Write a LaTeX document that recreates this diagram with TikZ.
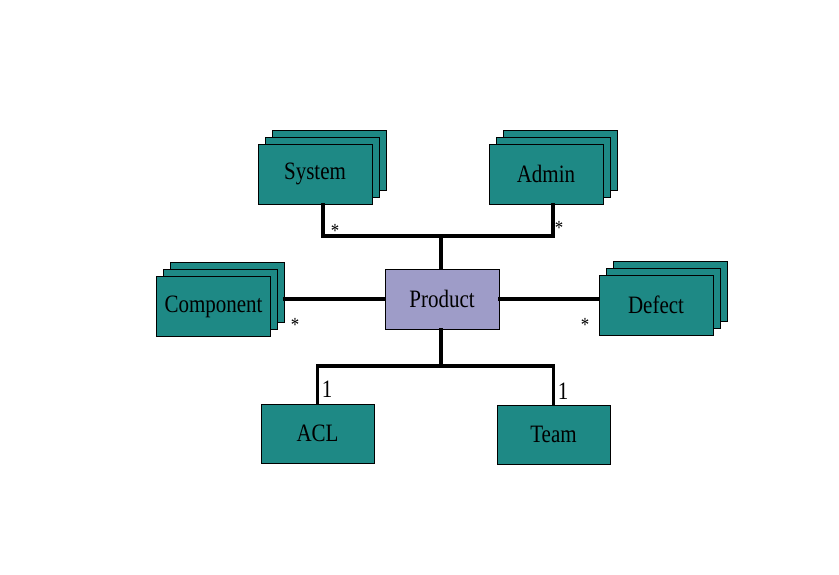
\documentclass[tikz,border=0pt]{standalone}
\usepackage{fontspec}
\setmainfont[FakeStretch=0.84]{Liberation Serif}
\usepackage{tikz}
\usetikzlibrary{shadows}
\definecolor{ERTeal}{RGB}{30,137,133}
\definecolor{ERLilac}{RGB}{158,156,200}

\begin{document}
\begin{tikzpicture}[
    x=1pt,y=-1pt,
    font=\fontsize{25}{28}\selectfont,
    entity/.style={draw=black,fill=ERTeal,line width=0.9pt,
      minimum width=114pt,minimum height=60pt,inner sep=0pt},
    many/.style={entity,double copy shadow={shadow xshift=7pt,shadow yshift=7pt}},
    hub/.style={entity,fill=ERLilac},
    link/.style={line width=3.6pt,line cap=rect},
    card/.style={inner sep=0pt,font=\fontsize{20}{22}\selectfont}
  ]
    \useasboundingbox (0,0) rectangle (839,575);
    \node[hub] (product) at (442,299) {Product};
    \node[many] (system) at (315,174) {System};
    \node[many] (admin) at (546,174) {Admin};
    \node[many] (component) at (213.5,306.5) {Component};
    \node[many] (defect) at (656,305) {Defect};
    \node[entity,minimum width=113pt,minimum height=59pt] (acl) at (317.5,433.5) {ACL};
    \node[entity,minimum width=113pt,minimum height=59pt] (team) at (553.5,434.5) {Team};
    \coordinate (topbus) at (441,236);
    \coordinate (botbus) at (441,366);
    \coordinate (compedge) at ([xshift=14pt]component.east);
    % upper pair
    \draw[link] ([xshift=8pt]system.south) |- (topbus) -| ([xshift=7pt]admin.south);
    \draw[link] (topbus) -- (topbus |- product.north);
    % side links
    \draw[link] (product.west) -- (product.west -| compedge);
    \draw[link] (product.east) -- (product.east -| defect.west);
    % lower pair
    \draw[link] (botbus |- product.south) -- (botbus);
    \draw[link] (acl.north) |- (botbus) -| (team.north);
    \node[card] (sysmult) at (335,231) {*};
    \node[card] (admmult) at (559,228) {*};
    \node[card] (cmpmult) at (295,325) {*};
    \node[card] (defmult) at (585,325) {*};
    \node[inner sep=0pt] (aclmult) at (327,389) {1};
    \node[inner sep=0pt] (teammult) at (563,391) {1};
\end{tikzpicture}
\end{document}
